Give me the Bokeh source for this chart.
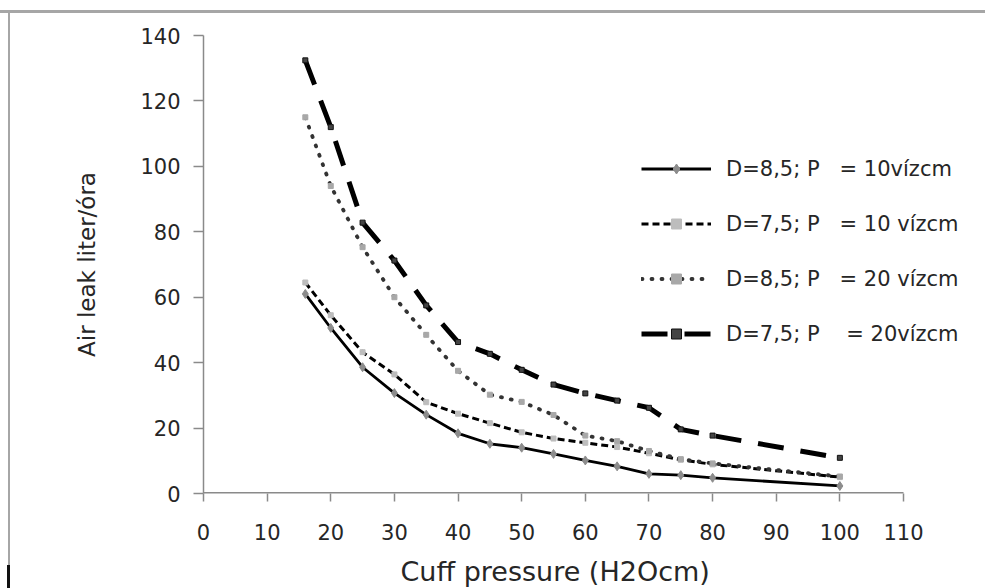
from bokeh.plotting import figure
from bokeh.models import Range1d, FixedTicker, Legend, LegendItem, Div
from bokeh.layouts import column, row
from bokeh.embed import file_html
from bokeh.resources import INLINE

# ---- data ----
cuff_pressure = [16, 20, 25, 30, 35, 40, 45, 50, 55, 60, 65, 70, 75, 80, 100]
d85_p10 = [61.0, 50.6, 38.6, 30.7, 24.1, 18.4, 15.2, 14.0, 12.1, 10.1, 8.3, 6.0, 5.6, 4.8, 2.3]
d75_p10 = [64.5, 54.5, 43.2, 36.4, 27.9, 24.4, 21.5, 18.7, 16.8, 15.5, 14.2, 12.3, 10.3, 8.9, 5.0]
d85_p20 = [115.0, 94.0, 75.3, 60.0, 48.5, 37.5, 30.2, 28.0, 24.0, 17.7, 16.0, 13.0, 10.5, 9.2, 5.2]
d75_p20 = [132.4, 112.0, 82.8, 71.2, 57.5, 46.3, 42.7, 37.8, 33.3, 30.6, 28.4, 26.2, 19.6, 17.7, 10.9]

labels = [
    "D=8,5; P\u00a0\u00a0\u00a0= 10vízcm",
    "D=7,5; P\u00a0\u00a0\u00a0= 10 vízcm",
    "D=8,5; P\u00a0\u00a0\u00a0= 20 vízcm",
    "D=7,5; P\u00a0\u00a0\u00a0\u00a0= 20vízcm",
]
x_ticks = list(range(0, 111, 10))
y_ticks = list(range(0, 141, 20))
x_axis_max = 110
y_axis_max = 140

FONT = "DejaVu Sans"
TXT = "#262626"
AX = "#8a8a8a"
EDGE = "#a6a6a6"

FRAME_W = 772
FRAME_H = 458
PX_PER_UNIT = 700 / x_axis_max

p = figure(width=975, height=575, frame_width=FRAME_W, frame_height=FRAME_H,
           min_border_left=193, min_border_right=10, min_border_top=22, min_border_bottom=95,
           x_range=Range1d(0, FRAME_W / PX_PER_UNIT), y_range=Range1d(0, y_axis_max),
           output_backend="svg", toolbar_location=None)
p.outline_line_color = None
p.xgrid.visible = False
p.ygrid.visible = False
p.background_fill_color = "#ffffff"
p.border_fill_color = "#ffffff"

for ax in (p.xaxis[0], p.yaxis[0]):
    ax.axis_line_color = AX
    ax.axis_line_width = 1.5
    ax.major_tick_line_color = AX
    ax.major_tick_line_width = 1.5
    ax.major_tick_in = 0
    ax.minor_tick_line_color = None
    ax.major_label_text_font = FONT
    ax.major_label_text_font_size = "21px"
    ax.major_label_text_color = TXT
    ax.axis_label_text_font = FONT
    ax.axis_label_text_font_style = "normal"
    ax.axis_label_text_color = TXT

p.xaxis.ticker = FixedTicker(ticks=x_ticks)
p.yaxis.ticker = FixedTicker(ticks=y_ticks)
# the x axis rule must stop at 110: hide the full-width rule and draw it over 0..110
p.xaxis.axis_line_color = None
p.segment(x0=[0], y0=[0], x1=[x_axis_max], y1=[0], line_color=AX, line_width=3)
p.xaxis.major_tick_out = 8
p.yaxis.major_tick_out = 10
p.xaxis.major_label_standoff = 22
p.yaxis.major_label_standoff = 13
p.xaxis.axis_label = "Cuff pressure (H2Ocm)" + "\u00a0" * 8
p.yaxis.axis_label = "Air leak liter/óra"
p.xaxis.axis_label_text_font_size = "27px"
p.yaxis.axis_label_text_font_size = "23px"
p.xaxis.axis_label_standoff = 13
p.yaxis.axis_label_standoff = 37

# series 1: solid with gray diamonds
l1 = p.line(cuff_pressure, d85_p10, line_color="black", line_width=2.8)
m1 = p.scatter(cuff_pressure, d85_p10, marker="diamond", size=9, fill_color="#8c8c8c", line_color="#8c8c8c")
# series 2: dashed with light squares
l2 = p.line(cuff_pressure, d75_p10, line_color="black", line_width=3, line_dash="7 4")
m2 = p.scatter(cuff_pressure, d75_p10, marker="square", size=5, fill_color="#bdbdbd", line_color="#bdbdbd")
# series 3: round dots
l3 = p.line(cuff_pressure, d85_p20, line_color="#333333", line_width=3.8, line_dash="1 9", line_cap="round")
m3 = p.scatter(cuff_pressure, d85_p20, marker="square", size=5, fill_color="#a8a8a8", line_color="#a8a8a8")
# series 4: long dashes with small dark squares
l4 = p.line(cuff_pressure, d75_p20, line_color="black", line_width=5, line_dash="26 17")
m4 = p.scatter(cuff_pressure, d75_p20, marker="square", size=5, fill_color="#444444", line_color="#111111", line_width=1)

legend = Legend(items=[
    LegendItem(label=labels[0], renderers=[l1, m1]),
    LegendItem(label=labels[1], renderers=[l2, m2]),
    LegendItem(label=labels[2], renderers=[l3, m3]),
    LegendItem(label=labels[3], renderers=[l4, m4]),
], location=(438, 147))
legend.padding = 0
legend.margin = 0
legend.spacing = 30
legend.glyph_width = 70
legend.glyph_height = 25
legend.label_height = 25
legend.label_standoff = 15
legend.label_text_font = FONT
legend.label_text_font_size = "21px"
legend.label_text_color = TXT
legend.border_line_alpha = 0
legend.background_fill_alpha = 0
p.add_layout(legend, "center")

# picture-frame edges of the original image (top and left), drawn as plain page strips
top_edge = Div(text="", width=985, height=13, margin=0,
               styles={"background": f"linear-gradient(to bottom, white 0px, white 10px, {EDGE} 10px, {EDGE} 13px)"})
left_edge = Div(text="", width=10, height=575, margin=0,
                styles={"background": f"linear-gradient(#111111, #111111) 7px 552px / 3px 23px no-repeat, "
                                      f"linear-gradient(to right, white 0px, white 8px, {EDGE} 8px, {EDGE} 10px)"})

layout = column(top_edge, row(left_edge, p, spacing=0), spacing=0)

open("out.html", "w").write(file_html(layout, INLINE))
